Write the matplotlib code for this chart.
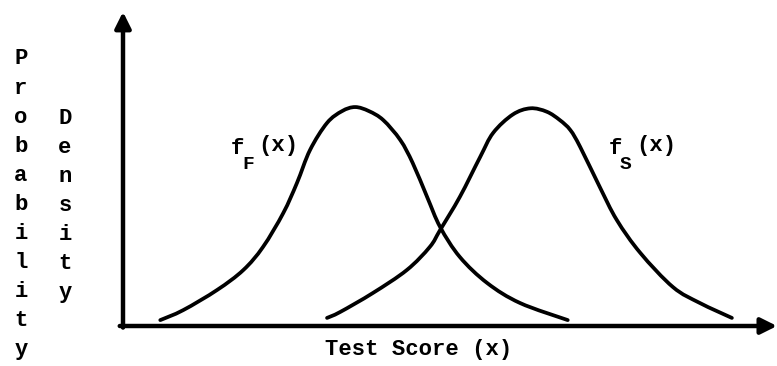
import matplotlib
matplotlib.use("Agg")
import matplotlib.pyplot as plt
from matplotlib.path import Path
from matplotlib.patches import PathPatch

# Test score (0-100) and relative density for the two groups
fail_score = [5.7, 9.2, 14.4, 18.4, 21.4, 24.5, 26.6, 28.6, 31.2, 33.5, 35.5,
              37.6, 39.8, 42.4, 44.3, 46.5, 48.5, 51.5, 55.7, 60.7, 68.0]
fail_density = [0.019, 0.051, 0.116, 0.180, 0.254, 0.363, 0.460, 0.566, 0.653,
                0.691, 0.704, 0.691, 0.662, 0.598, 0.524, 0.415, 0.318, 0.222,
                0.138, 0.074, 0.019]

succ_score = [31.2, 33.2, 38.2, 43.4, 46.9, 48.5, 51.5, 54.6, 56.6, 59.6, 62.3,
              64.8, 66.8, 68.4, 69.9, 72.9, 75.5, 79.1, 84.1, 88.2, 93.1]
succ_density = [0.026, 0.045, 0.106, 0.180, 0.254, 0.309, 0.415, 0.543, 0.621,
                0.680, 0.700, 0.689, 0.662, 0.630, 0.576, 0.447, 0.341, 0.235,
                0.125, 0.074, 0.026]

x_label = "Test Score (x)"
y_label_outer = "Probability"
y_label_inner = "Density"
fail_sym, fail_sub = "f", "F"
succ_sym, succ_sub = "f", "S"
arg_text = "(x)"

W, H = 777, 366
fig = plt.figure(figsize=(W / 100, H / 100), dpi=100)
fig.patch.set_facecolor("white")

# axes box in pixel terms: origin at (123, 326), top at y=15
x0, y0, x1, y1 = 123, 326, 777, 15
ax = fig.add_axes([x0 / W, (H - y0) / H, (x1 - x0) / W, (y0 - y1) / H])
ax.set_xlim(0, 100)
ax.set_ylim(0, 1)
ax.axis("off")


def smooth_path(xs, ys):
    """Cubic Bezier path passing through every (x, y) point (Catmull-Rom)."""
    pts = list(zip(xs, ys))
    n = len(pts)
    verts = [pts[0]]
    codes = [Path.MOVETO]
    for i in range(n - 1):
        p0 = pts[max(i - 1, 0)]
        p1 = pts[i]
        p2 = pts[i + 1]
        p3 = pts[min(i + 2, n - 1)]
        c1 = (p1[0] + (p2[0] - p0[0]) / 6, p1[1] + (p2[1] - p0[1]) / 6)
        c2 = (p2[0] - (p3[0] - p1[0]) / 6, p2[1] - (p3[1] - p1[1]) / 6)
        verts += [c1, c2, p2]
        codes += [Path.CURVE4] * 3
    return Path(verts, codes)


curve_kw = dict(facecolor="none", edgecolor="black", lw=2.7,
                capstyle="round", joinstyle="round")
ax.add_patch(PathPatch(smooth_path(fail_score, fail_density), **curve_kw))
ax.add_patch(PathPatch(smooth_path(succ_score, succ_density), **curve_kw))

# axis arrows
arrow_kw = dict(arrowstyle="-|>", lw=3.2, color="black",
                mutation_scale=24, shrinkA=0, shrinkB=0)
ax.annotate("", xy=(0, 1.01), xytext=(0, -0.005), xycoords="axes fraction",
            textcoords="axes fraction", arrowprops=arrow_kw,
            annotation_clip=False)
ax.annotate("", xy=(1.0, 0), xytext=(-0.005, 0), xycoords="axes fraction",
            textcoords="axes fraction", arrowprops=arrow_kw,
            annotation_clip=False)

font = dict(family="Liberation Mono", weight="bold", color="black")


def px(x, y):
    return x / W, 1 - y / H


# vertical stacked axis title
for i, ch in enumerate(y_label_outer):
    fig.text(*px(21, 59 + i * 29.1), ch, ha="center", va="center",
             fontsize=16, **font)
for i, ch in enumerate(y_label_inner):
    fig.text(*px(65, 118 + i * 29.1), ch, ha="center", va="center",
             fontsize=16, **font)

fig.text(*px(419, 350), x_label, ha="center", va="center", fontsize=16, **font)


def curve_label(x, sym, sub, arg):
    fig.text(*px(x, 148), sym, ha="left", va="center", fontsize=16, **font)
    fig.text(*px(x + 11, 164), sub, ha="left", va="center", fontsize=14, **font)
    fig.text(*px(x + 27, 145), arg, ha="left", va="center", fontsize=16, **font)


curve_label(231, fail_sym, fail_sub, arg_text)
curve_label(609, succ_sym, succ_sub, arg_text)

fig.savefig("out.png", dpi=100, facecolor="white")
